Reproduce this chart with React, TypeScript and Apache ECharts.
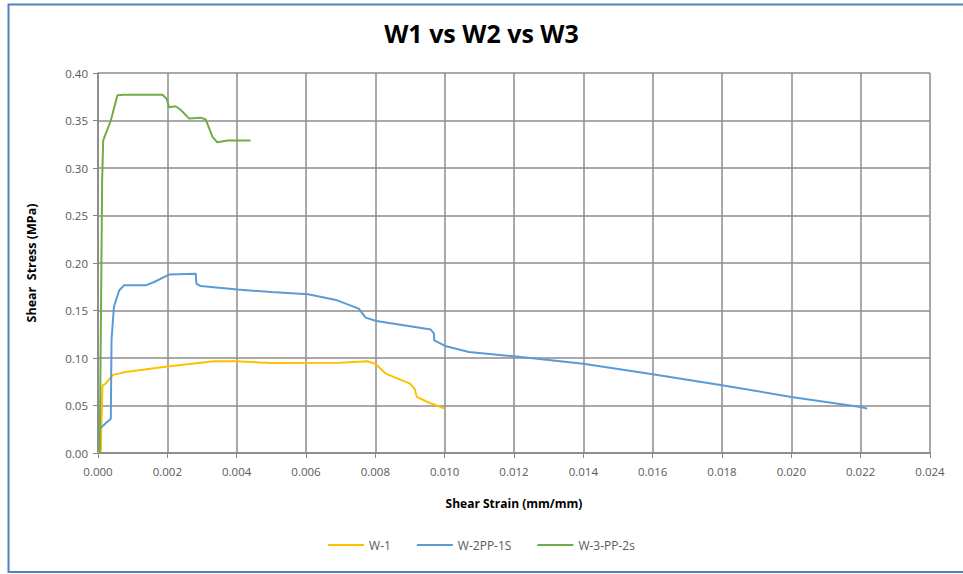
import React, { useEffect, useRef } from "react";
import * as echarts from "echarts";

const xTicks = { min: 0, max: 0.024, interval: 0.002 };
const yTicks = { min: 0, max: 0.4, interval: 0.05 };

const w1Strain = [0, 0.00008, 0.00013, 0.00022, 0.00042, 0.00075, 0.002, 0.00335, 0.004, 0.005, 0.007, 0.00777, 0.008, 0.0083, 0.009, 0.00913, 0.0092, 0.0095, 0.01];
const w1Stress = [0, 0.002, 0.071, 0.073, 0.082, 0.085, 0.091, 0.0965, 0.0965, 0.0947, 0.0951, 0.0965, 0.094, 0.0836, 0.073, 0.0678, 0.059, 0.0537, 0.0467];

const w2Strain = [0.00005, 0.00037, 0.00039, 0.00046, 0.00061, 0.00075, 0.00138, 0.00162, 0.00205, 0.00282, 0.00284, 0.00296, 0.00402, 0.005, 0.00606, 0.0069, 0.00752, 0.00772, 0.00803, 0.0096, 0.00969, 0.0097, 0.01004, 0.0107, 0.012, 0.014, 0.016, 0.018, 0.02, 0.022, 0.02219];
const w2Stress = [0.0257, 0.036, 0.119, 0.154, 0.171, 0.1765, 0.1765, 0.18, 0.1878, 0.1888, 0.178, 0.1758, 0.172, 0.1695, 0.167, 0.1607, 0.152, 0.1425, 0.139, 0.13, 0.1257, 0.1186, 0.1123, 0.1063, 0.1018, 0.094, 0.083, 0.0713, 0.059, 0.0484, 0.0467];

const w3Strain = [0.00005, 0.00012, 0.00015, 0.00037, 0.00056, 0.00075, 0.00186, 0.00198, 0.00205, 0.00224, 0.00239, 0.00263, 0.00296, 0.00311, 0.0033, 0.00344, 0.00373, 0.0044];
const w3Stress = [0, 0.287, 0.329, 0.35, 0.3765, 0.377, 0.377, 0.373, 0.364, 0.365, 0.361, 0.352, 0.353, 0.351, 0.333, 0.327, 0.329, 0.329];

const seriesNames = ["W-1", "W-2PP-1S", "W-3-PP-2s"];
const seriesColors = ["#FFC000", "#5B9BD5", "#70AD47"];

const zip = (xs: number[], ys: number[]) => xs.map((x, i) => [x, ys[i]]);

export default function App() {
  const ref = useRef<HTMLDivElement>(null);
  useEffect(() => {
    if (!ref.current) return;
    const chart = echarts.init(ref.current, null, { renderer: "svg" });
    const font = "'Open Sans', 'Liberation Sans', sans-serif";
    const datasets = [zip(w1Strain, w1Stress), zip(w2Strain, w2Stress), zip(w3Strain, w3Stress)];
    chart.setOption({
      animation: false,
      backgroundColor: "#ffffff",
      title: {
        text: "W1 vs W2 vs W3",
        left: "center",
        top: 15,
        textStyle: { fontFamily: font, fontSize: 25, fontWeight: "bold", color: "#000000" },
      },
      graphic: [
        {
          type: "polyline",
          shape: { points: [[970, 4.5], [8.5, 4.5], [8.5, 572], [970, 572]] },
          style: { fill: "none", stroke: "#4F81BD", lineWidth: 2 },
          silent: true,
        },
      ],
      legend: {
        bottom: 18,
        left: "center",
        itemWidth: 36,
        itemHeight: 2,
        itemGap: 26,
        icon: "rect",
        textStyle: { fontFamily: font, fontSize: 12, color: "#595959" },
        data: seriesNames,
      },
      grid: { left: 98, right: 33, top: 73, bottom: 121 },
      xAxis: {
        type: "value",
        min: xTicks.min,
        max: xTicks.max,
        interval: xTicks.interval,
        name: "Shear Strain (mm/mm)",
        nameLocation: "middle",
        nameGap: 44,
        nameTextStyle: { fontFamily: font, fontSize: 12, fontWeight: "bold", color: "#000000" },
        axisLine: { lineStyle: { color: "#868686", width: 1.5 } },
        axisTick: { show: true, length: 5, lineStyle: { color: "#868686" } },
        axisLabel: {
          fontFamily: font,
          fontSize: 11.5,
          color: "#595959",
          margin: 12,
          formatter: (v: number) => v.toFixed(3),
        },
        splitLine: { show: true, lineStyle: { color: "#8C8C8C", width: 1.5 } },
      },
      yAxis: {
        type: "value",
        min: yTicks.min,
        max: yTicks.max,
        interval: yTicks.interval,
        name: "Shear  Stress (MPa)",
        nameLocation: "middle",
        nameGap: 60,
        nameTextStyle: { fontFamily: font, fontSize: 12.5, fontWeight: "bold", color: "#000000" },
        axisLine: { show: true, lineStyle: { color: "#868686", width: 1.5 } },
        axisTick: { show: true, length: 5, lineStyle: { color: "#868686" } },
        axisLabel: {
          fontFamily: font,
          fontSize: 11.5,
          color: "#595959",
          margin: 10,
          formatter: (v: number) => v.toFixed(2),
        },
        splitLine: { show: true, lineStyle: { color: "#8C8C8C", width: 1.5 } },
      },
      series: seriesNames.map((name, i) => ({
        name,
        type: "line",
        data: datasets[i],
        showSymbol: false,
        symbol: "none",
        smooth: false,
        lineStyle: { color: seriesColors[i], width: 2 },
        itemStyle: { color: seriesColors[i] },
      })),
    });
    return () => chart.dispose();
  }, []);
  return <div ref={ref} style={{ position: "fixed", left: 0, top: 0, width: 963, height: 574 }} />;
}
